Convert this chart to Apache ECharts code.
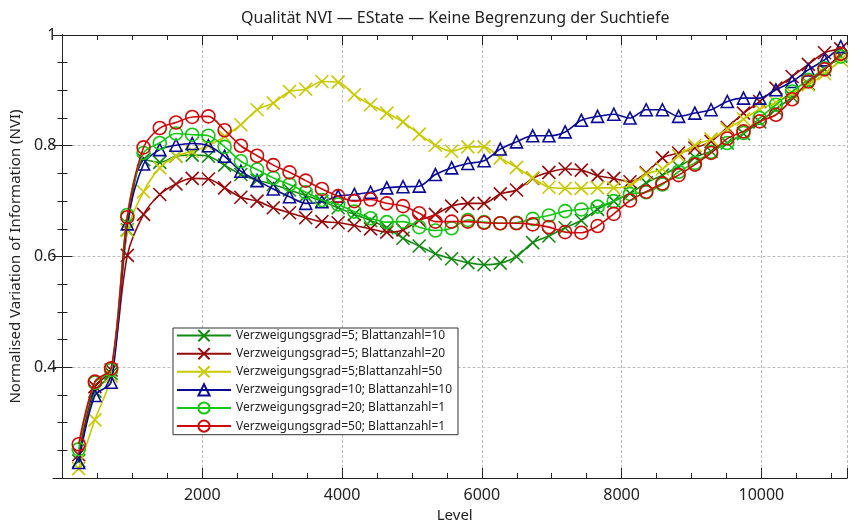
<!DOCTYPE html>
<html>
<head>
<meta charset="utf-8">
<script src="https://cdn.jsdelivr.net/npm/echarts@6/dist/echarts.min.js"></script>
<style>
  html, body { margin: 0; padding: 0; background: #fff; }
  #chart { width: 850px; height: 528px; }
</style>
</head>
<body>
<div id="chart"></div>
<script>
// Search levels (x values)
const levels = [232, 464, 696, 928, 1160, 1392, 1624, 1856, 2088, 2320, 2552, 2784,
  3016, 3248, 3480, 3712, 3944, 4176, 4408, 4640, 4872, 5104, 5336, 5568,
  5800, 6032, 6264, 6496, 6728, 6960, 7192, 7424, 7656, 7888, 8120, 8352,
  8584, 8816, 9048, 9280, 9512, 9744, 9976, 10208, 10440, 10672, 10904, 11136];

const seriesNames = [
  'Verzweigungsgrad=5; Blattanzahl=10',
  'Verzweigungsgrad=5; Blattanzahl=20',
  'Verzweigungsgrad=5;Blattanzahl=50',
  'Verzweigungsgrad=10; Blattanzahl=10',
  'Verzweigungsgrad=20; Blattanzahl=1',
  'Verzweigungsgrad=50; Blattanzahl=1'
];

const nviV5B10 = [0.231, 0.357, 0.389, 0.648, 0.775, 0.770, 0.781, 0.783, 0.781, 0.765, 0.748, 0.738,
  0.730, 0.720, 0.710, 0.700, 0.688, 0.676, 0.665, 0.652, 0.633, 0.619, 0.605, 0.596,
  0.589, 0.585, 0.588, 0.600, 0.625, 0.637, 0.652, 0.665, 0.685, 0.700, 0.714, 0.733,
  0.747, 0.762, 0.779, 0.790, 0.805, 0.822, 0.843, 0.866, 0.888, 0.912, 0.938, 0.962];

const nviV5B20 = [0.242, 0.365, 0.395, 0.602, 0.676, 0.712, 0.731, 0.741, 0.740, 0.724, 0.707, 0.700,
  0.688, 0.679, 0.670, 0.663, 0.661, 0.656, 0.650, 0.644, 0.648, 0.665, 0.676, 0.691,
  0.696, 0.696, 0.713, 0.720, 0.741, 0.752, 0.758, 0.756, 0.746, 0.741, 0.735, 0.751,
  0.778, 0.787, 0.796, 0.808, 0.833, 0.859, 0.880, 0.904, 0.925, 0.947, 0.968, 0.975];

const nviV5B50 = [0.217, 0.305, 0.384, 0.647, 0.717, 0.760, 0.781, 0.790, 0.800, 0.817, 0.838, 0.865,
  0.877, 0.898, 0.902, 0.916, 0.915, 0.892, 0.874, 0.859, 0.843, 0.821, 0.801, 0.790,
  0.798, 0.798, 0.778, 0.761, 0.742, 0.725, 0.723, 0.723, 0.724, 0.724, 0.728, 0.749,
  0.758, 0.782, 0.801, 0.812, 0.830, 0.848, 0.866, 0.878, 0.895, 0.910, 0.930, 0.955];

const nviV10B10 = [0.228, 0.349, 0.373, 0.659, 0.767, 0.793, 0.801, 0.804, 0.800, 0.781, 0.754, 0.737,
  0.722, 0.708, 0.696, 0.699, 0.709, 0.712, 0.716, 0.724, 0.726, 0.727, 0.748, 0.760,
  0.768, 0.773, 0.794, 0.807, 0.818, 0.818, 0.825, 0.846, 0.853, 0.857, 0.850, 0.865,
  0.865, 0.853, 0.859, 0.865, 0.880, 0.886, 0.886, 0.901, 0.916, 0.937, 0.955, 0.979];

const nviV20B1 = [0.252, 0.372, 0.395, 0.675, 0.787, 0.805, 0.822, 0.820, 0.818, 0.798, 0.772, 0.757,
  0.742, 0.730, 0.716, 0.702, 0.694, 0.681, 0.669, 0.662, 0.663, 0.653, 0.647, 0.651,
  0.666, 0.662, 0.660, 0.661, 0.668, 0.674, 0.682, 0.685, 0.690, 0.700, 0.713, 0.716,
  0.730, 0.753, 0.769, 0.789, 0.805, 0.823, 0.850, 0.874, 0.898, 0.919, 0.940, 0.961];

const nviV50B1 = [0.261, 0.374, 0.398, 0.671, 0.797, 0.832, 0.842, 0.852, 0.853, 0.828, 0.800, 0.782,
  0.765, 0.752, 0.737, 0.722, 0.709, 0.700, 0.703, 0.696, 0.691, 0.678, 0.663, 0.663,
  0.663, 0.661, 0.660, 0.660, 0.658, 0.653, 0.644, 0.643, 0.655, 0.677, 0.701, 0.717,
  0.732, 0.747, 0.766, 0.787, 0.813, 0.826, 0.844, 0.856, 0.884, 0.916, 0.938, 0.966];

const xTickLabels = ['2000', '4000', '6000', '8000', '10000'];
const yTickLabels = ['0.4', '0.6', '0.8', '1'];

const FONT = 'Noto Sans';
const X_MIN = 0, X_MAX = 11225, Y_MIN = 0.2, Y_MAX = 1;

const CROSS = 'path://M0,0L10,10M10,0L0,10';
const TRIANGLE = 'path://M5,0L10,9L0,9Z';

const styles = [
  { color: '#128a12', symbol: CROSS, size: 13 },
  { color: '#960a0a', symbol: CROSS, size: 13 },
  { color: '#c9c900', symbol: CROSS, size: 13 },
  { color: '#0a0a96', symbol: TRIANGLE, size: 12 },
  { color: '#12c812', symbol: 'circle', size: 13 },
  { color: '#d00a0a', symbol: 'circle', size: 13 }
];
const seriesData = [nviV5B10, nviV5B20, nviV5B50, nviV10B10, nviV20B1, nviV50B1];

const series = seriesData.map((vals, i) => ({
  name: seriesNames[i],
  type: 'line',
  xAxisIndex: 0,
  yAxisIndex: 0,
  data: vals.map((v, j) => [levels[j], v]),
  smooth: 0.3,
  symbol: styles[i].symbol,
  symbolSize: styles[i].size,
  showAllSymbol: true,
  lineStyle: { color: styles[i].color, width: 1.6 },
  itemStyle: { color: 'rgba(0,0,0,0)', borderColor: styles[i].color, borderWidth: 1.6 },
  emphasis: { disabled: true },
  z: 3 + i
}));

const labelFmtX = v => (xTickLabels.indexOf(String(v)) >= 0 ? String(v) : '');
const labelFmtY = v => {
  const s = String(Math.round(v * 10) / 10);
  return yTickLabels.indexOf(s) >= 0 ? s : '';
};

const axisLine = { show: true, lineStyle: { color: '#222', width: 1 } };
const majorTick = { show: true, inside: true, length: 10, lineStyle: { color: '#222', width: 1 } };
const minorTickAxis = { show: true, inside: true, length: 5, lineStyle: { color: '#222', width: 1 } };
const grid = { show: true, lineStyle: { color: '#bdbdbd', width: 1, type: [3, 2] } };

function xAx(position, interval, tick, withLabels, withSplit) {
  return {
    type: 'value', position, min: X_MIN, max: X_MAX, interval,
    axisLine, axisTick: tick,
    axisLabel: withLabels
      ? { show: true, formatter: labelFmtX, fontFamily: FONT, fontSize: 16, color: '#222', margin: 9 }
      : { show: false },
    splitLine: withSplit ? grid : { show: false },
    name: withLabels ? 'Level' : '',
    nameLocation: 'middle', nameGap: 30,
    nameTextStyle: { fontFamily: FONT, fontSize: 15, color: '#222' }
  };
}
function yAx(position, interval, tick, withLabels, withSplit) {
  return {
    type: 'value', position, min: Y_MIN, max: Y_MAX, interval,
    axisLine, axisTick: tick,
    axisLabel: withLabels
      ? { show: true, formatter: labelFmtY, fontFamily: FONT, fontSize: 16, color: '#222', margin: 6 }
      : { show: false },
    splitLine: withSplit ? grid : { show: false },
    name: withLabels ? 'Normalised Variation of Information (NVI)' : '',
    nameLocation: 'middle', nameGap: 34,
    nameTextStyle: { fontFamily: FONT, fontSize: 15, color: '#222' }
  };
}

const option = {
  animation: false,
  backgroundColor: '#fff',
  title: {
    text: 'Qualität NVI — EState — Keine Begrenzung der Suchtiefe',
    left: 236, top: 5,
    textStyle: { fontFamily: FONT, fontSize: 16, fontWeight: 'normal', color: '#222' }
  },
  grid: { left: 60, right: 1, top: 35, bottom: 48, show: false },
  xAxis: [
    xAx('bottom', 2000, majorTick, true, true),
    xAx('bottom', 500, minorTickAxis, false, false),
    xAx('top', 2000, majorTick, false, false),
    xAx('top', 500, minorTickAxis, false, false)
  ],
  yAxis: [
    yAx('left', 0.2, majorTick, true, true),
    yAx('left', 0.05, minorTickAxis, false, false),
    yAx('right', 0.2, majorTick, false, false),
    yAx('right', 0.05, minorTickAxis, false, false)
  ],
  legend: {
    orient: 'vertical',
    left: 173, top: 328,
    padding: [1, 6, 2, 3],
    itemGap: 4.9,
    itemWidth: 54,
    itemHeight: 14,
    backgroundColor: '#fff',
    borderColor: '#333',
    borderWidth: 1,
    borderRadius: 0,
    textStyle: { fontFamily: FONT, fontSize: 12, color: '#222' },
    data: seriesNames
  },
  series
};

const chart = echarts.init(document.getElementById('chart'), null, { renderer: 'canvas' });
chart.setOption(option);
</script>
</body>
</html>
